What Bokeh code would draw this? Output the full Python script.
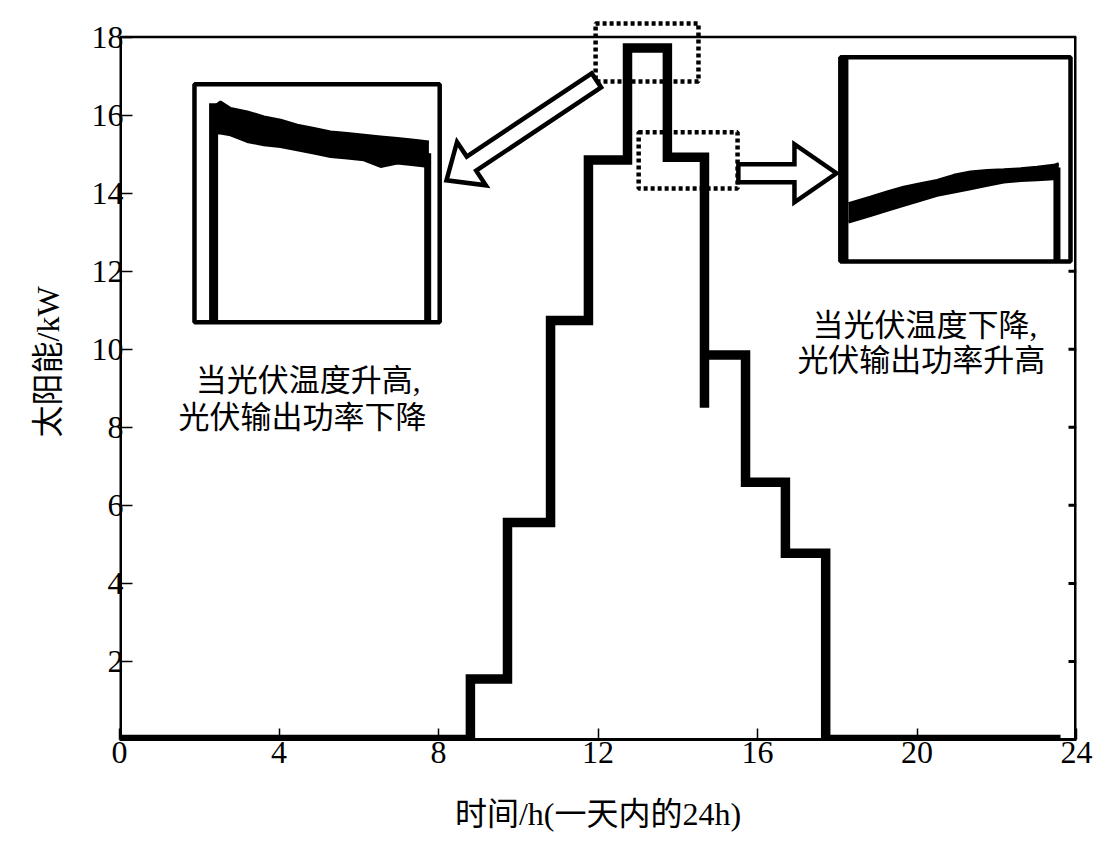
import math
from bokeh.plotting import figure
from bokeh.models import Range1d, FixedTicker, Title
from bokeh.embed import file_html
from bokeh.resources import INLINE
from bokeh.core.properties import value

# ---------------- data ----------------
# main step series: time of each level change (h) and level after it (kW)
step_times = [0.0, 8.80, 9.73, 10.81, 11.76, 12.74, 13.74, 14.67, 15.70, 16.70, 17.71]
step_levels = [0.0, 1.55, 5.56, 10.74, 14.85, 17.72, 14.92, 9.85, 6.59, 4.77, 0.0]
end_time = 23.6
dip_time = 14.67
dip_level = 8.5

x_ticks = [0, 4, 8, 12, 16, 20, 24]
y_ticks = [2, 4, 6, 8, 10, 12, 14, 16, 18]
right_ticks = [2, 4, 6, 8, 10, 12]

x_label = "时间/h(一天内的24h)"
y_label = "太阳能/kW"

# inset 1 (temperature rising): normalised inset coordinates
in1_u = [0.065, 0.106, 0.147, 0.215, 0.283, 0.351, 0.419, 0.487, 0.555, 0.623, 0.691, 0.759, 0.827, 0.895, 0.956]
in1_up = [0.891, 0.926, 0.898, 0.884, 0.863, 0.849, 0.828, 0.814, 0.800, 0.793, 0.786, 0.779, 0.772, 0.765, 0.758]
in1_lo = [0.795, 0.795, 0.788, 0.760, 0.746, 0.739, 0.725, 0.711, 0.697, 0.690, 0.683, 0.655, 0.669, 0.662, 0.655]
in1_left_u, in1_left_top = 0.078, 0.92
in1_right_u, in1_right_top = 0.951, 0.71

# inset 2 (temperature falling)
in2_u = [0.035, 0.130, 0.203, 0.275, 0.348, 0.420, 0.493, 0.565, 0.638, 0.710, 0.783, 0.855, 0.927, 0.949]
in2_up = [0.283, 0.315, 0.340, 0.364, 0.381, 0.397, 0.422, 0.438, 0.446, 0.449, 0.454, 0.462, 0.471, 0.479]
in2_lo = [0.193, 0.225, 0.250, 0.275, 0.299, 0.324, 0.340, 0.356, 0.373, 0.389, 0.397, 0.400, 0.405, 0.405]
in2_left_u, in2_left_top = 0.013, 1.0
in2_right_u, in2_right_top = 0.941, 0.46

# annotation layout (data coordinates)
inset_boxes = [(1.88, 8.03, 10.69, 16.79), (18.08, 23.85, 12.25, 17.48)]
dotted_boxes = [(11.94, 14.52, 16.86, 18.35), (13.02, 15.50, 14.12, 15.56)]
arrows = [((11.96, 16.89), (8.20, 14.33), 8.5, 26, 30),
          ((15.52, 14.51), (17.98, 14.51), 9, 29, 42)]
notes = [("当光伏温度升高,", 1.91, 9.20), ("光伏输出功率下降", 1.48, 8.25),
         ("当光伏温度下降,", 17.38, 10.61), ("光伏输出功率升高", 17.00, 9.71)]

# ---------------- figure ----------------
W, H = 1098, 840
ML, MR, MT, MB = 119, 22, 19, 101
XMAX, YMAX = 24, 18.45
SX = (W - ML - MR) / XMAX
SY = (H - MT - MB) / YMAX

SERIF = "Liberation Serif, Noto Sans CJK SC"

p = figure(width=W, height=H, x_range=Range1d(0, XMAX), y_range=Range1d(0, YMAX),
           output_backend="svg", toolbar_location=None,
           min_border_left=ML, min_border_right=MR, min_border_top=MT, min_border_bottom=MB)
p.outline_line_color = None
p.grid.visible = False
p.background_fill_color = "white"
p.border_fill_color = "white"

xa = p.xaxis[0]
xa.ticker = FixedTicker(ticks=x_ticks)
xa.minor_tick_line_color = None
xa.major_tick_in = 11
xa.major_tick_out = 0
xa.major_tick_line_width = 1.5
xa.major_tick_line_color = "black"
xa.axis_line_width = 3
xa.axis_line_color = "black"
xa.major_label_text_font = "Liberation Serif"
xa.major_label_text_font_size = "32px"
xa.major_label_text_color = "black"
xa.major_label_standoff = 2
xa.axis_label = x_label
xa.axis_label_text_font = SERIF
xa.axis_label_text_font_size = "32px"
xa.axis_label_text_font_style = "normal"
xa.axis_label_text_color = "black"
xa.axis_label_standoff = 30

ya = p.yaxis[0]
ya.ticker = FixedTicker(ticks=y_ticks)
ya.minor_tick_line_color = None
ya.major_tick_in = 13
ya.major_tick_out = 0
ya.major_tick_line_width = 1.5
ya.major_tick_line_color = "black"
ya.axis_line_color = None
ya.major_label_text_font = "Liberation Serif"
ya.major_label_text_font_size = "32px"
ya.major_label_text_color = "black"
ya.major_label_standoff = -4

ytitle = Title(text=y_label, align="left", offset=302, standoff=46,
               text_font=SERIF, text_font_size="32px", text_font_style="normal",
               text_color="black")
p.add_layout(ytitle, "left")

# main step line
xs, ys = [], []
for i, (t, lv) in enumerate(zip(step_times, step_levels)):
    if i > 0:
        xs.append(t); ys.append(step_levels[i - 1])
    if t == dip_time:
        xs.append(t); ys.append(dip_level)
    xs.append(t); ys.append(lv)
xs.append(end_time); ys.append(step_levels[-1])
p.line(xs, ys, line_width=9.5, line_color="black", line_join="miter")

# frame borders (left, right, top)
p.segment(x0=[0, 24], y0=[0, 0], x1=[0, 24], y1=[18, 18], line_width=5, line_color="black")
p.segment(x0=[0], y0=[18], x1=[24], y1=[18], line_width=2.5, line_color="black")
# inward ticks on right border
tick_len = 8 / SX
p.segment(x0=[24 - tick_len] * len(right_ticks), y0=right_ticks,
          x1=[24] * len(right_ticks), y1=right_ticks, line_width=3, line_color="black")

# dotted boxes
for (l, r, b, t) in dotted_boxes:
    p.quad(left=[l], right=[r], bottom=[b], top=[t], fill_color=None,
           line_color="black", line_width=4.5, line_dash="4 3")

# hollow arrows
for (tail, tip, w, hw, hl) in arrows:
    tx, ty = tail[0] * SX, tail[1] * SY
    px, py = tip[0] * SX, tip[1] * SY
    d = math.hypot(px - tx, py - ty)
    ux, uy = (px - tx) / d, (py - ty) / d
    nx, ny = -uy, ux
    bx, by = px - ux * hl, py - uy * hl
    pts = [(tx + nx * w, ty + ny * w), (bx + nx * w, by + ny * w), (bx + nx * hw, by + ny * hw),
           (px, py), (bx - nx * hw, by - ny * hw), (bx - nx * w, by - ny * w), (tx - nx * w, ty - ny * w)]
    p.patch([q[0] / SX for q in pts], [q[1] / SY for q in pts], fill_color="white",
            line_color="black", line_width=4.5, line_join="miter")

# insets
insets = [(inset_boxes[0], in1_u, in1_up, in1_lo, in1_left_u, in1_left_top, in1_right_u, in1_right_top, 9),
          (inset_boxes[1], in2_u, in2_up, in2_lo, in2_left_u, in2_left_top, in2_right_u, in2_right_top, 10)]
for (box, uu, up, lo, lu, lt, ru, rt, lw) in insets:
    l, r, b, t = box
    p.quad(left=[l], right=[r], bottom=[b], top=[t], fill_color="white",
           line_color="black", line_width=4.5)
    fx = lambda u: l + u * (r - l)
    fy = lambda v: b + v * (t - b)
    p.varea(x=[fx(u) for u in uu], y1=[fy(v) for v in lo], y2=[fy(v) for v in up], fill_color="black")
    p.line([fx(u) for u in uu], [fy(v) for v in up], line_width=3, line_color="black")
    p.line([fx(u) for u in uu], [fy(v) for v in lo], line_width=3, line_color="black")
    p.segment(x0=[fx(lu)], y0=[fy(0)], x1=[fx(lu)], y1=[fy(lt)], line_width=lw, line_color="black")
    p.segment(x0=[fx(ru)], y0=[fy(0)], x1=[fx(ru)], y1=[fy(rt)], line_width=7, line_color="black")

# annotation texts
p.text(x=[n[1] for n in notes], y=[n[2] for n in notes], text=[n[0] for n in notes],
       text_font=value(SERIF), text_font_size="31px", text_color="black",
       text_align="left", text_baseline="middle")

open("out.html", "w").write(file_html(p, INLINE))
